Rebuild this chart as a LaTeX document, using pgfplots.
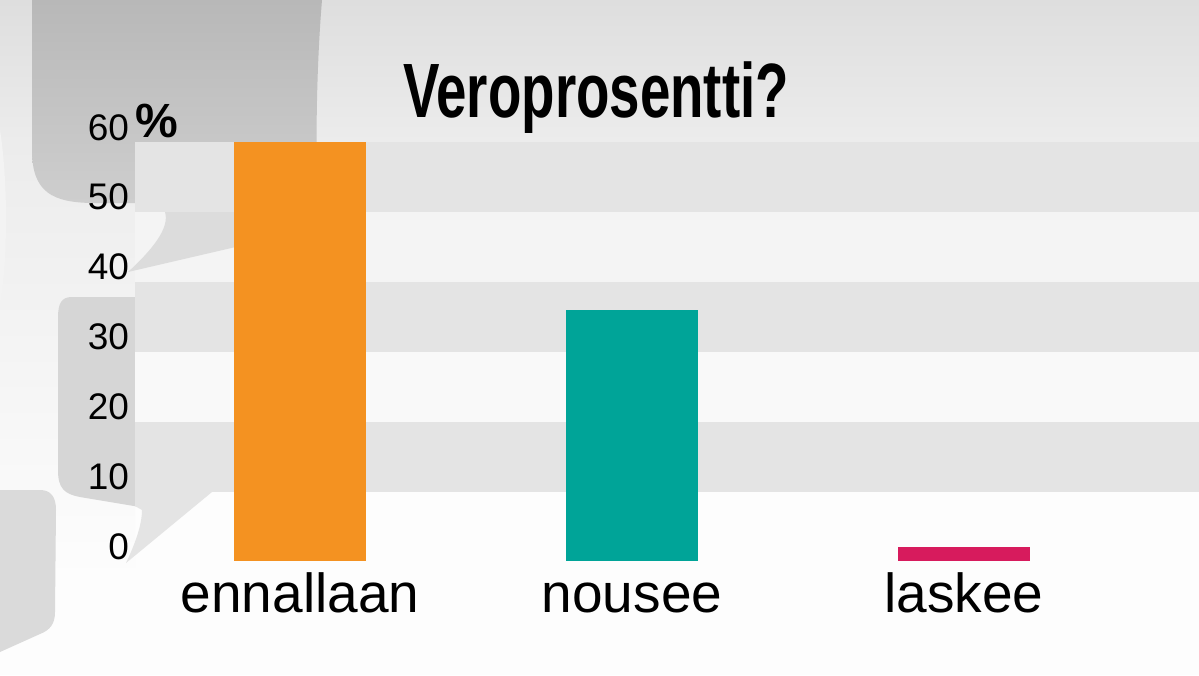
\documentclass[border=0pt]{standalone}
\usepackage{pgfplots}
\pgfplotsset{compat=1.18}
\usepackage{graphicx}
\usepackage{fontspec}
\setmainfont{Liberation Sans}
\definecolor{cOrange}{RGB}{244,146,33}
\definecolor{cTeal}{RGB}{0,164,152}
\definecolor{cPink}{RGB}{215,27,93}
\definecolor{bgTop}{RGB}{222,222,222}
\definecolor{bgMid}{RGB}{236,236,236}
\definecolor{bgWhite}{RGB}{253,253,253}
\definecolor{bubTop}{RGB}{184,184,184}
\definecolor{bubBot}{RGB}{206,206,206}
\definecolor{tailA}{RGB}{220,220,220}
\definecolor{bubB}{RGB}{214,214,214}
\definecolor{tailB}{RGB}{228,228,228}
\definecolor{bubC}{RGB}{218,218,218}
\definecolor{stripeD}{RGB}{228,228,228}
\definecolor{stripeL}{RGB}{244,244,244}
\definecolor{stripeLL}{RGB}{249,249,249}
\begin{document}
\begin{tikzpicture}
\begin{scope}[x=0.5pt,y=-0.5pt]
% background
\fill[bgWhite] (0,0) rectangle (1199,675);
\shade[top color=bgTop,bottom color=bgMid] (0,0) rectangle (1199,142);
\shade[top color=bgMid,bottom color=bgWhite] (0,142) rectangle (135,580);
\fill[bgMid!60!bgWhite] (0,130) .. controls (8,180) and (8,260) .. (0,305) -- cycle;
% top bubble
\shade[top color=bubTop,bottom color=bubBot] (32,0) -- (32,150) .. controls (32,192) and (52,203) .. (95,203) -- (318,203) .. controls (315,140) and (317,60) .. (322,0) -- cycle;
% middle bubble
\fill[bubB] (140,297) -- (72,297) .. controls (61,297) and (58,304) .. (58,318) -- (58,470) .. controls (58,488) and (64,494) .. (80,497) -- (140,507) -- cycle;
% bottom bubble
\fill[bubC] (0,490) -- (40,490) .. controls (51,490) and (56,497) .. (56,510) -- (55,612) .. controls (55,624) and (50,630) .. (40,634) -- (0,652) -- cycle;
% stripes
\fill[stripeD] (135,142) rectangle (1199,212);
\fill[stripeL] (135,212) rectangle (1199,282);
\fill[stripeD] (135,282) rectangle (1199,352);
\fill[stripeLL] (135,352) rectangle (1199,422);
\fill[stripeD] (135,422) rectangle (1199,492);
% tails
\fill[tailA] (165,212) .. controls (170,228) and (152,250) .. (128,272) -- (240,246) -- (240,212) -- cycle;
\fill[tailB] (135,492) -- (212,492) -- (126,563) .. controls (134,546) and (142,526) .. (142,510) -- (135,506) -- cycle;
% title and unit
\node[anchor=base,inner sep=0] at (596,117) {\fontsize{38.5}{40}\selectfont\bfseries\scalebox{0.71}[1]{Veroprosentti?}};
\node[anchor=base,inner sep=0] at (157,137) {\fontsize{24}{26}\selectfont\bfseries\%};
\end{scope}
\begin{axis}[
  at={(67.5pt,-280.5pt)}, anchor=south west,
  scale only axis, width=532pt, height=209.5pt,
  xmin=-0.497, xmax=2.708, ymin=0, ymax=60,
  axis line style={draw=none},
  major tick length=0pt,
  ytick={0,10,20,30,40,50,60},
  xtick={0,1,2},
  xticklabels={ennallaan,nousee,laskee},
  /pgf/number format/assume math mode=true,
  yticklabel style={font=\fontsize{18.5}{20}\selectfont, anchor=base east, yshift=1pt, xshift=0.5pt},
  xticklabel style={font=\fontsize{27.5}{30}\selectfont, anchor=base, yshift=-25.5pt},
  clip=false,
]
\addplot[ybar, bar shift=0pt, bar width=0.4, fill=cOrange, draw=none] coordinates {(0,60)};
\addplot[ybar, bar shift=0pt, bar width=0.4, fill=cTeal, draw=none] coordinates {(1,36)};
\addplot[ybar, bar shift=0pt, bar width=0.4, fill=cPink, draw=none] coordinates {(2,2)};
\end{axis}
\pgfresetboundingbox
\path (0,0) rectangle (599.5pt,-337.5pt);
\end{tikzpicture}
\end{document}
